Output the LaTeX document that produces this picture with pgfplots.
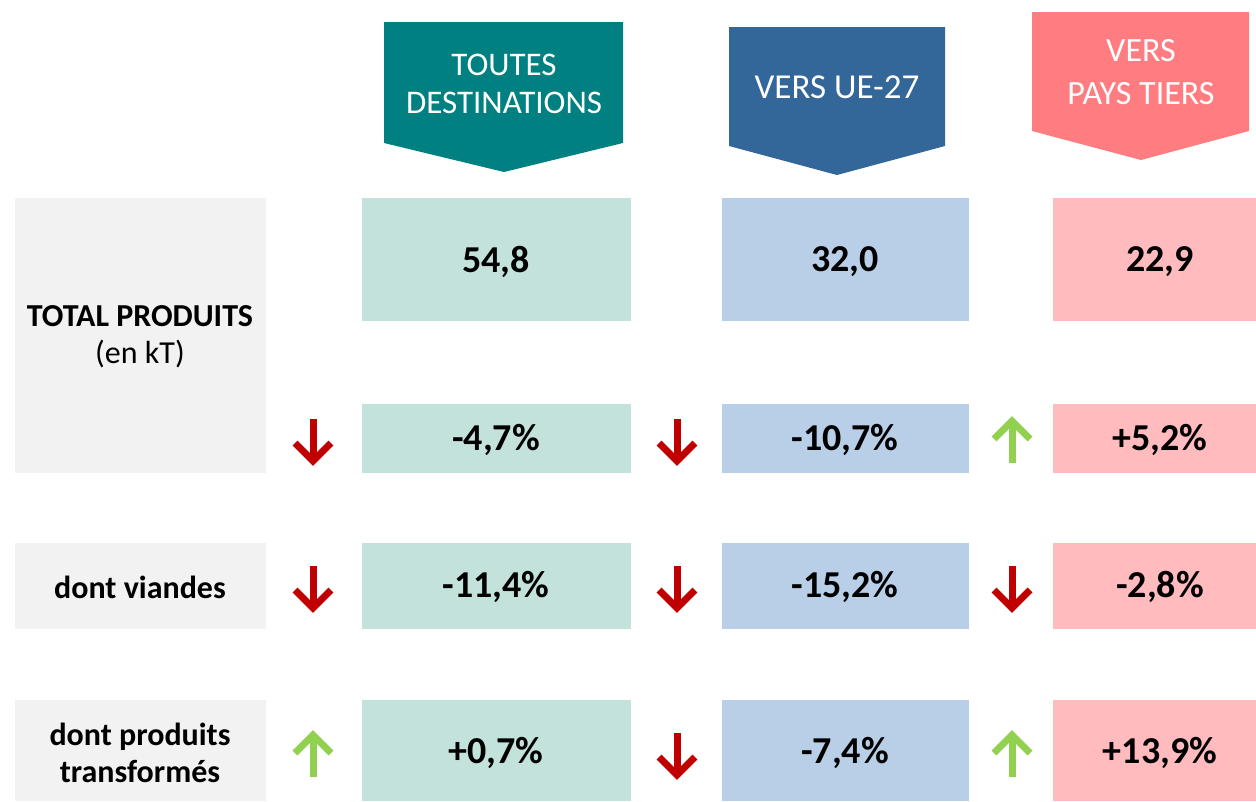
\documentclass[border=0pt]{standalone}
\usepackage{pgfplots}
\pgfplotsset{compat=1.18}
\usepackage{fontspec}
\setmainfont{Carlito}
\definecolor{hteal}{HTML}{008080}
\definecolor{hblue}{HTML}{336699}
\definecolor{hred}{HTML}{FF7C80}
\definecolor{lteal}{HTML}{C4E2DC}
\definecolor{lblue}{HTML}{B8CFE7}
\definecolor{lred}{HTML}{FFBBBE}
\definecolor{lgrey}{HTML}{F2F2F2}
\definecolor{adown}{HTML}{C00000}
\definecolor{aup}{HTML}{92D050}
\newcommand{\cell}[5]{\addplot[fill=#5,draw=none] coordinates {(#1,#3) (#2,#3) (#2,#4) (#1,#4)} -- cycle;}
% down arrow: x, centre y
\newcommand{\darrow}[2]{%
\addplot[adown,line width=7pt,line cap=butt] coordinates {(#1,#2-22) (#1,#2+18)};
\addplot[adown,line width=7pt,line cap=butt,line join=miter] coordinates {(#1-18,#2+2) (#1,#2+20) (#1+18,#2+2)};}
\newcommand{\uarrow}[2]{%
\addplot[aup,line width=7pt,line cap=butt] coordinates {(#1,#2+22) (#1,#2-18)};
\addplot[aup,line width=7pt,line cap=butt,line join=miter] coordinates {(#1-18,#2-2) (#1,#2-20) (#1+18,#2-2)};}
\begin{document}
\begin{tikzpicture}
\begin{axis}[
  scale only axis, width=1256pt, height=801pt,
  xmin=0, xmax=1256, ymin=0, ymax=801, y dir=reverse,
  axis line style={draw=none}, ticks=none, clip=false,
]
% invisible frame so the picture keeps the full extent
\addplot[draw=none,mark=none] coordinates {(0,0) (1256,801)};
% headers
\addplot[fill=hteal,draw=none] coordinates {(384,22) (623,22) (623,143) (504,172) (384,143)} -- cycle;
\addplot[fill=hblue,draw=none] coordinates {(729,27) (945,27) (945,146) (837,175) (729,146)} -- cycle;
\addplot[fill=hred,draw=none] coordinates {(1032,12) (1249,12) (1249,131) (1141,160) (1032,131)} -- cycle;
% label cells
\cell{15}{266}{198}{473}{lgrey}
\cell{15}{266}{543}{629}{lgrey}
\cell{15}{266}{700}{801}{lgrey}
% value cells
\cell{362}{631}{198}{321}{lteal}
\cell{722}{969}{198}{321}{lblue}
\cell{1053}{1256}{198}{321}{lred}
\cell{362}{631}{404}{473}{lteal}
\cell{722}{969}{404}{473}{lblue}
\cell{1053}{1256}{404}{473}{lred}
\cell{362}{631}{543}{629}{lteal}
\cell{722}{969}{543}{629}{lblue}
\cell{1053}{1256}{543}{629}{lred}
\cell{362}{631}{700}{801}{lteal}
\cell{722}{969}{700}{801}{lblue}
\cell{1053}{1256}{700}{801}{lred}
% arrows
\darrow{313}{441}
\darrow{677}{441}
\uarrow{1012}{441}
\darrow{313}{588}
\darrow{677}{588}
\darrow{1012}{588}
\uarrow{313}{755}
\darrow{677}{755}
\uarrow{1012}{755}
% header text
\node[white,align=center,font=\fontsize{33}{38}\selectfont] at (axis cs:504,84) {TOUTES\\DESTINATIONS};
\node[white,align=center,font=\fontsize{35}{38}\selectfont] at (axis cs:837,87) {VERS UE-27};
\node[white,align=center,font=\fontsize{34}{43}\selectfont] at (axis cs:1141,72) {VERS\\PAYS TIERS};
% labels
\node[align=center,font=\fontsize{32}{37}\selectfont] at (axis cs:140,337) {\textbf{TOTAL PRODUITS}\\(en kT)};
\node[align=center,font=\bfseries\fontsize{32}{37}\selectfont] at (axis cs:140,587) {dont viandes};
\node[align=center,font=\bfseries\fontsize{32}{37}\selectfont] at (axis cs:140,753) {dont produits\\transformés};
% values
\begin{scope}[every node/.style={font=\bfseries\fontsize{38}{42}\selectfont}]
\node at (axis cs:496,262) {54,8};
\node at (axis cs:845,262) {32,0};
\node at (axis cs:1160,262) {22,9};
\node at (axis cs:496,440) {-4,7\%};
\node at (axis cs:845,440) {-10,7\%};
\node at (axis cs:1160,440) {+5,2\%};
\node at (axis cs:496,587) {-11,4\%};
\node at (axis cs:845,587) {-15,2\%};
\node at (axis cs:1160,587) {-2,8\%};
\node at (axis cs:496,753) {+0,7\%};
\node at (axis cs:845,753) {-7,4\%};
\node at (axis cs:1160,753) {+13,9\%};
\end{scope}
\end{axis}
\end{tikzpicture}
\end{document}
